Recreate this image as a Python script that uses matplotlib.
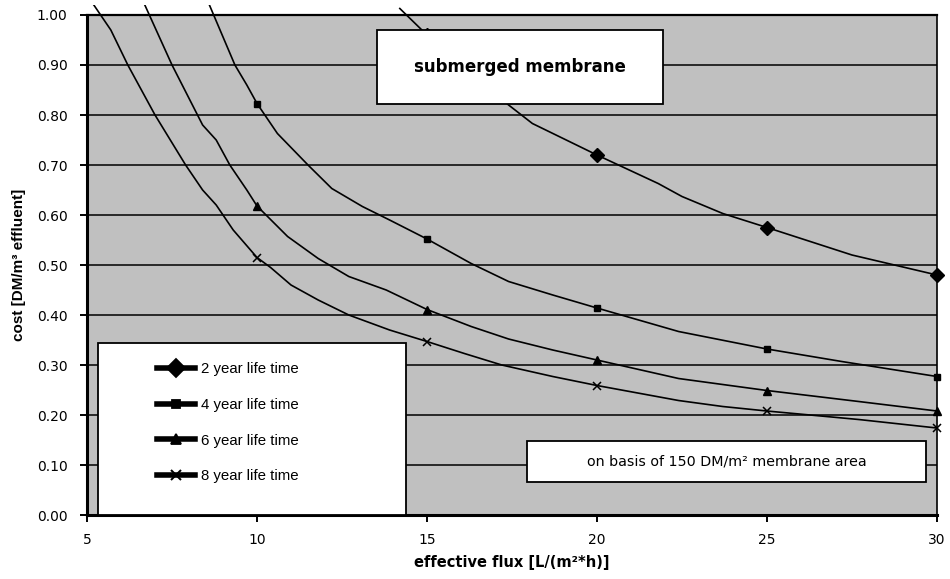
import numpy as np
import matplotlib
matplotlib.use("Agg")
import matplotlib.pyplot as plt
from matplotlib.patches import Rectangle
from matplotlib.ticker import FormatStrFormatter

# membrane replacement cost vs. effective flux, one curve per module life time
flux_2yr = [14.2, 15, 16, 17.4, 18.1, 20, 21.8, 22.5, 23.7, 25, 27.5, 30]
cost_2yr = [1.013, 0.96, 0.90, 0.82, 0.783, 0.72, 0.663, 0.637, 0.603, 0.575, 0.52, 0.48]

flux_4yr = [8.6, 9.35, 9.7, 10, 10.6, 11.5, 12.2, 13.1, 13.9, 15, 16.3, 17.4, 18.7,
            20, 22.4, 25, 27.2, 30]
cost_4yr = [1.02, 0.90, 0.86, 0.823, 0.763, 0.70, 0.653, 0.617, 0.59, 0.552, 0.503,
            0.467, 0.44, 0.414, 0.367, 0.332, 0.307, 0.277]

flux_6yr = [6.7, 7.5, 8.4, 8.8, 9.2, 9.7, 10, 10.9, 11.8, 12.7, 13.8, 15, 16.3, 17.4,
            18.7, 20, 22.4, 25, 27.7, 30]
cost_6yr = [1.02, 0.90, 0.78, 0.75, 0.70, 0.65, 0.618, 0.557, 0.513, 0.477, 0.45,
            0.411, 0.377, 0.352, 0.33, 0.31, 0.273, 0.249, 0.227, 0.208]

flux_8yr = [5.2, 5.7, 6.2, 7.0, 7.9, 8.4, 8.8, 9.3, 10, 10.4, 11, 11.8, 12.7, 13.9,
            15, 16.1, 17.2, 18.7, 20, 22.4, 23.7, 25, 27.7, 30]
cost_8yr = [1.02, 0.97, 0.90, 0.80, 0.70, 0.65, 0.62, 0.57, 0.515, 0.495, 0.46, 0.43,
            0.40, 0.37, 0.347, 0.323, 0.30, 0.277, 0.259, 0.229, 0.217, 0.208, 0.191,
            0.174]

series_labels = ["2 year life time", "4 year life time", "6 year life time",
                 "8 year life time"]
marker_flux = [10, 15, 20, 25, 30]

x_ticks = [5, 10, 15, 20, 25, 30]
y_ticks = [0.0, 0.1, 0.2, 0.3, 0.4, 0.5, 0.6, 0.7, 0.8, 0.9, 1.0]

fig = plt.figure(figsize=(9.5, 5.79), dpi=100)
ax = fig.add_axes([0.0916, 0.1105, 0.8947, 0.8636])
ax.set_facecolor("#c0c0c0")
ax.set_xlim(5, 30)
ax.set_ylim(0, 1.0)

# curves may poke a little above the plot area, like the spreadsheet original
clip_box = Rectangle((0, 0), 1.03, 1.02, transform=ax.transAxes,
                     facecolor="none", edgecolor="none")
ax.add_patch(clip_box)

styles = [
    dict(marker="D", ms=7.5),
    dict(marker="s", ms=4.5),
    dict(marker="^", ms=5.5),
    dict(marker="x", ms=5.5, mew=1.1),
]
handles = []
data = [(flux_2yr, cost_2yr), (flux_4yr, cost_4yr), (flux_6yr, cost_6yr),
        (flux_8yr, cost_8yr)]
for (fx, cs), st, lab in zip(data, styles, series_labels):
    idx = [i for i, f in enumerate(fx) if f in marker_flux]
    (ln,) = ax.plot(fx, cs, color="black", lw=1.2, markevery=idx,
                    mfc="black", mec="black", zorder=3, **st)
    ln.set_clip_path(clip_box)
    h, = ax.plot([], [], color="black", lw=4, marker=st["marker"],
                 ms=st["ms"] * 1.25, mew=st.get("mew", 1) * 1.3)
    handles.append(h)

# grid and frame
ax.set_yticks(y_ticks)
ax.set_xticks(x_ticks)
ax.yaxis.set_major_formatter(FormatStrFormatter("%.2f"))
ax.grid(axis="y", color="black", lw=1.1)
ax.grid(axis="x", visible=False)
ax.set_axisbelow(True)
for side in ["left", "bottom"]:
    ax.spines[side].set_linewidth(2.2)
ax.spines["right"].set_linewidth(1.2)
ax.spines["top"].set_linewidth(1.6)
ax.tick_params(axis="both", direction="out", length=5, width=1.4,
               labelsize=10, colors="black")
ax.tick_params(axis="y", pad=9)
ax.tick_params(axis="x", pad=8)
for t in ax.get_xticklabels() + ax.get_yticklabels():
    t.set_family("DejaVu Sans")

ax.set_xlabel("effective flux [L/(m²*h)]", fontsize=10.5, fontweight="bold",
              family="DejaVu Sans", labelpad=6)
ax.set_ylabel("cost [DM/m³ effluent]", fontsize=11, fontweight="bold",
              family="Liberation Sans", labelpad=8)

# title box
ax.add_patch(Rectangle((13.53, 0.822), 8.41, 0.148, facecolor="white",
                       edgecolor="black", lw=1.3, zorder=5))
ax.text(17.73, 0.896, "submerged membrane", ha="center", va="center",
        fontsize=12, fontweight="bold", family="DejaVu Sans", zorder=6)

# note box
ax.add_patch(Rectangle((17.94, 0.066), 11.74, 0.082, facecolor="white",
                       edgecolor="black", lw=1.3, zorder=5))
ax.text(23.81, 0.107, "on basis of 150 DM/m² membrane area", ha="center",
        va="center", fontsize=10.3, family="DejaVu Sans", zorder=6)

# legend box
ax.add_patch(Rectangle((5.32, 0.0), 9.06, 0.344, facecolor="white",
                       edgecolor="black", lw=1.3, zorder=5, clip_on=False))
leg = ax.legend(handles, series_labels, loc="upper left",
                bbox_to_anchor=(0.0824, 0.306), frameon=False, borderpad=0,
                borderaxespad=0, handlelength=2.5, handletextpad=0.4,
                labelspacing=1.45, prop={"family": "Liberation Sans", "size": 10.8})
leg.set_zorder(7)

fig.savefig("out.png", dpi=100)
